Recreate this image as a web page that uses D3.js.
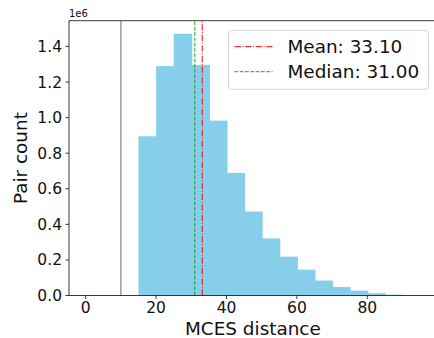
<!DOCTYPE html>
<html>
<head>
<meta charset="utf-8">
<script src="https://cdn.jsdelivr.net/npm/d3@7"></script>
<style>
  body { margin: 0; background: #fff; }
  svg { display: block; font-family: "DejaVu Sans", sans-serif; }
</style>
</head>
<body>
<div id="chart"></div>
<script>
// histogram bins (MCES distance) and counts per bin
const binEdges = [0, 5, 10, 15, 20, 25, 30, 35, 40, 45, 50, 55, 60, 65, 70, 75, 80, 85, 90, 95];
const counts = [0, 0, 0, 895000, 1289000, 1471000, 1296000, 983000, 689000, 472000, 321000, 218000, 145000, 84000, 48000, 27000, 13000, 4500, 1500];
const meanValue = 33.10;
const medianValue = 31.00;
const thresholdValue = 10;
const xTicks = [0, 20, 40, 60, 80];
const yTicks = [0, 0.2e6, 0.4e6, 0.6e6, 0.8e6, 1.0e6, 1.2e6, 1.4e6];

const width = 434, height = 338;
const margin = { left: 69, right: -2.8, top: 20.7, bottom: 42.5 };

const svg = d3.select("#chart").append("svg")
    .attr("width", width)
    .attr("height", height);

// matplotlib style 5% margins
const xMin = binEdges[0], xMax = binEdges[binEdges.length - 1];
const xPad = (xMax - xMin) * 0.05;
const yMax = d3.max(counts) * 1.05;

const x = d3.scaleLinear()
    .domain([xMin - xPad, xMax + xPad])
    .range([margin.left, width - margin.right]);
const y = d3.scaleLinear()
    .domain([0, yMax])
    .range([height - margin.bottom, margin.top]);

const bins = counts.map((c, i) => ({ x0: binEdges[i], x1: binEdges[i + 1], count: c }))
    .filter(d => d.count > 0);
const lastEdge = d3.max(bins, d => d.x1);

// bars (overlap neighbours slightly so no seams show)
svg.append("g")
    .selectAll("rect")
    .data(bins)
    .join("rect")
    .attr("x", d => x(d.x0))
    .attr("width", d => x(d.x1) - x(d.x0) + (d.x1 === lastEdge ? 0 : 1))
    .attr("y", d => y(d.count))
    .attr("height", d => y(0) - y(d.count))
    .attr("fill", "#87ceeb");

// threshold line
svg.append("line")
    .attr("x1", x(thresholdValue)).attr("x2", x(thresholdValue))
    .attr("y1", y(0)).attr("y2", y(yMax))
    .attr("stroke", "#808080")
    .attr("stroke-width", 1.2);

const meanDash = "6.4,1.6,1,1.6";
const medianDash = "3.7,1.6";
const meanColor = "#ff0000";
const medianColor = "#1f9e1f";

svg.append("line")
    .attr("x1", x(medianValue)).attr("x2", x(medianValue))
    .attr("y1", y(0)).attr("y2", y(yMax))
    .attr("stroke", medianColor)
    .attr("stroke-width", 1)
    .attr("stroke-dasharray", medianDash);

svg.append("line")
    .attr("x1", x(meanValue)).attr("x2", x(meanValue))
    .attr("y1", y(0)).attr("y2", y(yMax))
    .attr("stroke", meanColor)
    .attr("stroke-width", 1)
    .attr("stroke-dasharray", meanDash);

// spines
const spine = "#222";
svg.append("line")
    .attr("x1", margin.left).attr("x2", margin.left)
    .attr("y1", y(0)).attr("y2", y(yMax))
    .attr("stroke", spine).attr("stroke-width", 0.9);
svg.append("line")
    .attr("x1", margin.left).attr("x2", width - margin.right)
    .attr("y1", y(0)).attr("y2", y(0))
    .attr("stroke", spine).attr("stroke-width", 0.9);
svg.append("line")
    .attr("x1", margin.left).attr("x2", width - margin.right)
    .attr("y1", y(yMax)).attr("y2", y(yMax))
    .attr("stroke", spine).attr("stroke-width", 0.9);

// x ticks
const xg = svg.append("g");
xTicks.forEach(t => {
  xg.append("line")
    .attr("x1", x(t)).attr("x2", x(t))
    .attr("y1", y(0)).attr("y2", y(0) + 3.5)
    .attr("stroke", spine).attr("stroke-width", 0.9);
  xg.append("text")
    .attr("x", x(t)).attr("y", 313.3)
    .attr("text-anchor", "middle")
    .attr("font-size", 15.5)
    .attr("fill", "#111")
    .text(t);
});

// y ticks
const yg = svg.append("g");
yTicks.forEach(t => {
  yg.append("line")
    .attr("x1", margin.left - 3.5).attr("x2", margin.left)
    .attr("y1", y(t)).attr("y2", y(t))
    .attr("stroke", spine).attr("stroke-width", 0.9);
  yg.append("text")
    .attr("x", 62).attr("y", y(t))
    .attr("dy", "0.36em")
    .attr("text-anchor", "end")
    .attr("font-size", 15.5)
    .attr("fill", "#111")
    .text((t / 1e6).toFixed(1));
});

// offset text
svg.append("text")
    .attr("x", margin.left).attr("y", 17)
    .attr("font-size", 10)
    .attr("fill", "#111")
    .text("1e6");

// axis labels
svg.append("text")
    .attr("x", x(47.5)).attr("y", 335)
    .attr("text-anchor", "middle")
    .attr("font-size", 18.4)
    .attr("fill", "#111")
    .text("MCES distance");

svg.append("text")
    .attr("transform", `translate(27,${(y(0) + y(yMax)) / 2}) rotate(-90)`)
    .attr("text-anchor", "middle")
    .attr("font-size", 18.4)
    .attr("fill", "#111")
    .text("Pair count");

// legend
const legend = svg.append("g");
legend.append("rect")
    .attr("x", 228.5).attr("y", 30.3)
    .attr("width", 200).attr("height", 59)
    .attr("rx", 3)
    .attr("fill", "#fff").attr("fill-opacity", 0.8)
    .attr("stroke", "#d5d5d5").attr("stroke-width", 1);

const legendItems = [
  { label: `Mean: ${meanValue.toFixed(2)}`, color: meanColor, dash: meanDash },
  { label: `Median: ${medianValue.toFixed(2)}`, color: medianColor, dash: medianDash }
];
legendItems.forEach((d, i) => {
  const cy = 46.7 + i * 25;
  legend.append("line")
    .attr("x1", 234.5).attr("x2", 272.5)
    .attr("y1", cy).attr("y2", cy)
    .attr("stroke", d.color).attr("stroke-width", 1)
    .attr("stroke-dasharray", d.dash);
  legend.append("text")
    .attr("x", 287.5).attr("y", cy)
    .attr("dy", "0.36em")
    .attr("font-size", 18.4)
    .attr("fill", "#111")
    .text(d.label);
});
</script>
</body>
</html>
